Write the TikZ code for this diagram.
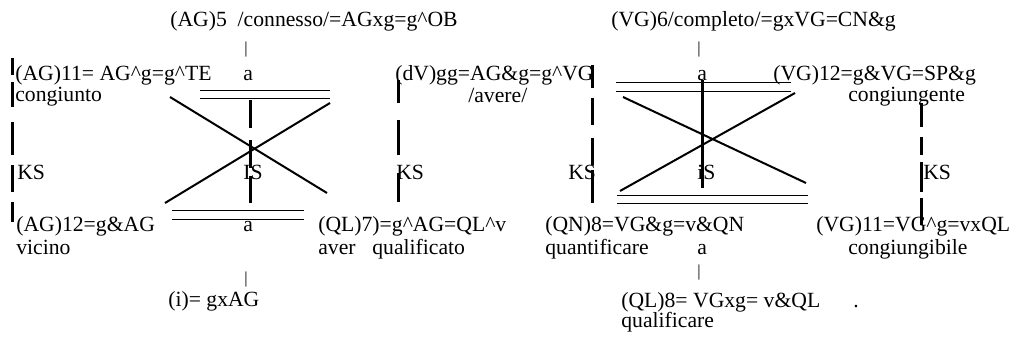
\documentclass[tikz,border=0pt]{standalone}
\usepackage{fontspec}
\setmainfont{Liberation Serif}
\usepackage{tikz}
\tikzset{
  lbl/.style={anchor=base west,inner sep=0pt,font=\fontsize{13}{15}\selectfont},
  barlbl/.style={anchor=base west,inner sep=0pt,font=\fontsize{10}{12}\selectfont},
  % the "KS" / "IS" stems: thick and broken
  ks/.style={line width=1.8pt},
  xline/.style={line width=1.2pt},
  rule/.style={line width=0.6pt}
}
\newcommand{\crt}{\textasciicircum}
\begin{document}
\begin{tikzpicture}[x=0.6pt,y=-0.6pt]
  \useasboundingbox (0,0) rectangle (1018,340);
  % left square
  \node[lbl] (conn) at (170,26) {(AG)5\ \ /connesso/=AGxg=g\crt OB};
  \node[barlbl] (bara) at (244,53) {|};
  \node[lbl] (ag11) at (15,80) {(AG)11= AG\crt g=g\crt TE};
  \node[lbl] (aa) at (243,80) {a};
  \node[lbl] (dv) at (395,80) {(dV)gg=AG\&g=g\crt VG};
  \node[lbl] (cong) at (15,101) {congiunto};
  \node[lbl] (avere) at (468,102) {/avere/};
  \node[lbl] (ksa) at (17,179) {KS};
  \node[lbl] (isa) at (243,179) {IS};
  \node[lbl] (ksb) at (396,179) {KS};
  \node[lbl] (ag12) at (16,231) {(AG)12=g\&AG};
  \node[lbl] (ab) at (243,231) {a};
  \node[lbl] (ql7) at (318,231) {(QL)7)=g\crt AG=QL\crt v};
  \node[lbl] (vic) at (16,254) {vicino};
  \node[lbl] (aver) at (318,254) {aver};
  \node[lbl] (qualto) at (372,254) {qualificato};
  \node[barlbl] (barb) at (244,283) {|};
  \node[lbl] (ii) at (168,306) {(i)= gxAG};
  % right square
  \node[lbl] (compl) at (611,26) {(VG)6/completo/=gxVG=CN\&g};
  \node[barlbl] (barc) at (697,53) {|};
  \node[lbl] (ac) at (697,80) {a};
  \node[lbl] (vg12) at (773,80) {(VG)12=g\&VG=SP\&g};
  \node[lbl] (congte) at (848,101) {congiungente};
  \node[lbl] (ksc) at (568,179) {KS};
  \node[lbl] (isb) at (697,179) {iS};
  \node[lbl] (ksd) at (923,179) {KS};
  \node[lbl] (qn8) at (545,231) {(QN)8=VG\&g=v\&QN};
  \node[lbl] (vg11) at (816,231) {(VG)11=VG\crt g=vxQL};
  \node[lbl] (quant) at (545,254) {quantificare};
  \node[lbl] (ad) at (697,254) {a};
  \node[lbl] (congbl) at (848,254) {congiungibile};
  \node[barlbl] (bard) at (697,276) {|};
  \node[lbl] (ql8) at (621,307) {(QL)8= VGxg= v\&QL};
  \node[lbl] (dot) at (853,307) {.};
  \node[lbl] (qualre) at (621,327) {qualificare};
  % stems
  \draw[ks,dash pattern=on 10.2pt off 4.2pt on 15pt off 9pt on 19.8pt off 6pt on 16.2pt off 6pt on 12pt off 20pt] (12,58) -- (12,222);
  \draw[ks,dash pattern=on 16.8pt off 7.2pt on 16.8pt off 4.8pt on 16.2pt off 20pt] (250,100) -- (250,203);
  \draw[ks,dash pattern=on 13.8pt off 10.2pt on 21pt off 10.8pt on 17.4pt off 20pt] (398,80) -- (398,202);
  \draw[ks,dash pattern=on 13.8pt off 6pt on 16.2pt off 7.8pt on 16.2pt off 3pt on 19.8pt off 20pt] (592,65) -- (592,203);
  \draw[ks] (702,80) -- (702,188);
  \draw[ks,dash pattern=on 14.4pt off 6pt on 10.8pt off 4.2pt on 18pt off 3.6pt on 16.2pt off 20pt] (921,103) -- (921,225);
  % crosses
  \draw[xline] (170,97) -- (327,193);
  \draw[xline] (330,103) -- (165,203);
  \draw[xline] (623,97) -- (806,183);
  \draw[xline] (795,93) -- (620,191);
  % double rules
  \draw[rule] (200,90) -- (330,90);
  \draw[rule] (200,98) -- (330,98);
  \draw[rule] (172,210) -- (304,210);
  \draw[rule] (172,219) -- (304,219);
  \draw[rule] (616,82) -- (791,82);
  \draw[rule] (616,91) -- (791,91);
  \draw[rule] (617,195) -- (808,195);
  \draw[rule] (617,203) -- (808,203);
\end{tikzpicture}
\end{document}
